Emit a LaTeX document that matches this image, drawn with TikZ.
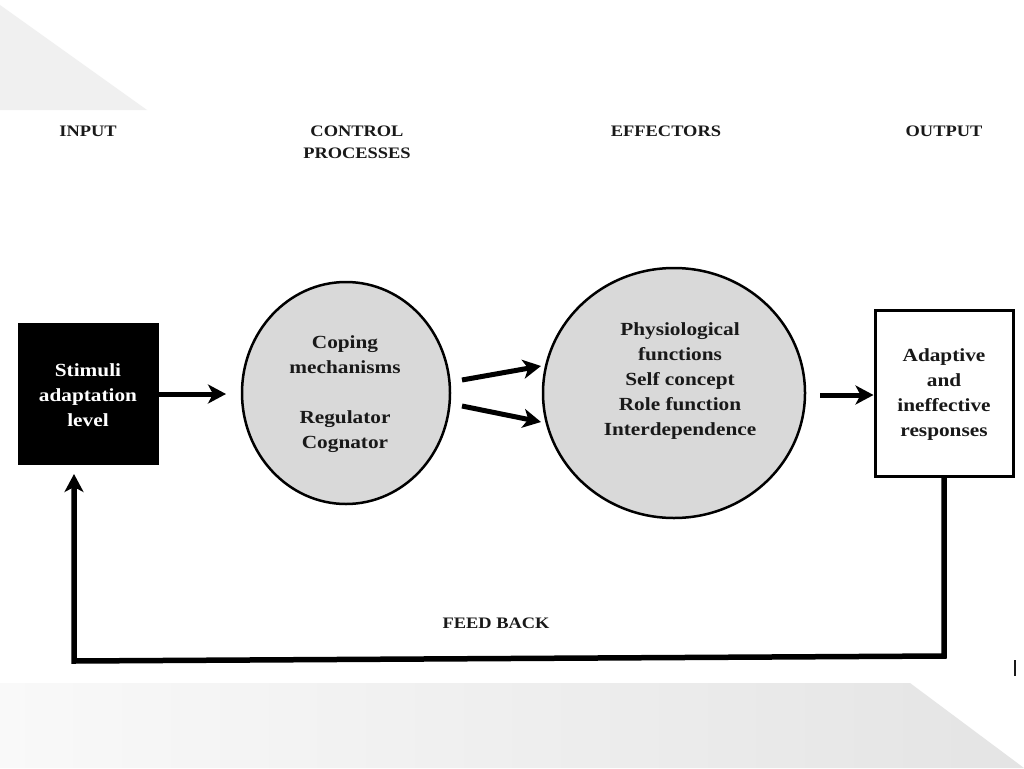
\documentclass[tikz,border=0pt]{standalone}
\usepackage{fontspec}
\setmainfont{Liberation Serif}[FakeStretch=1.15]
\usetikzlibrary{arrows.meta,shapes.geometric}
\definecolor{bubble}{RGB}{217,217,217}
\definecolor{pale}{RGB}{240,240,240}
\definecolor{ink}{RGB}{25,25,25}
\begin{document}
\begin{tikzpicture}[x=1pt,y=-1pt,
  hdr/.style={font=\fontsize{16}{22}\selectfont\bfseries, text=ink, align=center, inner sep=0},
  body/.style={font=\fontsize{18.5}{25}\selectfont\bfseries, text=ink, align=center, inner sep=0},
  arr/.style={line width=5pt, -{Stealth[length=18pt,width=19pt,inset=5pt]}},
  bubblenode/.style={draw=black, ellipse, fill=bubble, line width=2.5pt, inner sep=0},
]
\useasboundingbox (0,0) rectangle (1024,768);
\fill[white] (0,0) rectangle (1024,768);
% background decorations
\fill[pale] (0,5) -- (147,110) -- (0,110) -- cycle;
\shade[left color=white!60!pale, right color=pale!95!black] (0,683) -- (910,683) -- (1024,768) -- (0,768) -- cycle;

% headers
\node[hdr] (hin) at (88,131) {INPUT};
\node[hdr] (hcp) at (357,142) {CONTROL\\PROCESSES};
\node[hdr] (hef) at (666,131) {EFFECTORS};
\node[hdr] (hout) at (944,131) {OUTPUT};

% shapes
\node[fill=black, draw=black, minimum width=140pt, minimum height=141pt, inner sep=0] (stim) at (88,393.5) {};
\node[body, text=white] (stimt) at (88,395) {Stimuli\\adaptation\\level};

\node[bubblenode, minimum width=208pt, minimum height=222pt] (cp) at (346,393) {};
\node[body] (cpt) at (345,394) {Coping\\mechanisms\\[25pt]Regulator\\Cognator};

\node[bubblenode, minimum width=262pt, minimum height=250pt] (ef) at (674,393) {};
\node[body] (eft) at (680,381) {Physiological\\functions\\Self concept\\Role function\\Interdependence};

\node[draw=black, fill=white, line width=3pt, minimum width=138pt, minimum height=166pt, inner sep=0] (out) at (944,393) {};
\node[body] (outt) at (944,394.5) {Adaptive\\and\\ineffective\\responses};

% connector coordinates
\coordinate (a1e) at (226,394);
\coordinate (a2s) at (462,380);
\coordinate (a2e) at (541,366);
\coordinate (a3s) at (462,406);
\coordinate (a3e) at (541,422);
\coordinate (a4s) at (820,395);
\coordinate (fbR) at (944,656);
\coordinate (fbL) at (74,661);
\coordinate (fbT) at (74,474);

% connectors
\draw[arr] (stim.east |- a1e) -- (a1e);
\draw[arr] (a2s) -- (a2e);
\draw[arr] (a3s) -- (a3e);
\draw[arr] (a4s) -- (out.west |- a4s);
\draw[arr, line join=miter, line width=5.5pt] (out.south) -- (fbR) -- (fbL) -- (fbT);

\node[hdr] (fb) at (496,623) {FEED BACK};

% small mark
\draw[line width=2pt, ink] (1015,660) -- (1015,676);
\end{tikzpicture}
\end{document}
